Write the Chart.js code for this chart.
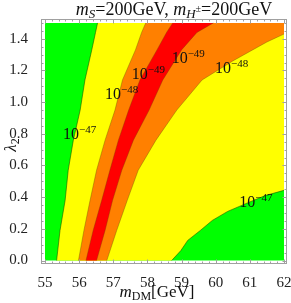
<!DOCTYPE html>
<html>
<head>
<meta charset="utf-8">
<script src="https://cdn.jsdelivr.net/npm/chart.js@4.4.1/dist/chart.umd.min.js"></script>
<style>
html, body { margin: 0; padding: 0; background: #fff; }
canvas { display: block; }
</style>
</head>
<body>
<canvas id="contour" width="291" height="303"></canvas>
<script>
// lambda_2 values at which the band boundaries were read
var lamBand = [0, 0.19, 0.38, 0.57, 0.76, 0.95, 1.14, 1.33, 1.44, 1.5];
// left-hand boundaries, m_DM in GeV
var mGreenYellow  = [55.34, 55.44, 55.59, 55.68, 55.83, 56.03, 56.17, 56.37, 56.48, 56.54];
var mYellowOrange = [55.98, 56.14, 56.32, 56.51, 56.76, 57.05, 57.27, 57.65, 57.83, 57.95];
var mOrangeRed    = [56.20, 56.41, 56.66, 56.90, 57.15, 57.45, 57.78, 58.28, 58.56, 58.74];
var mRedOrange    = [56.51, 56.76, 56.98, 57.25, 57.59, 58.05, 58.45, 59.00, 59.45, 59.93];

// orange -> yellow (right side, leaves through the right edge)
var lamOrangeYellow = [0, 0.19, 0.38, 0.57, 0.76, 0.95, 1.14, 1.20, 1.26, 1.32, 1.38, 1.43];
var mOrangeYellow   = [56.81, 57.10, 57.41, 57.73, 58.25, 58.86, 59.60, 60.05, 60.50, 61.00, 61.50, 62.00];

// yellow -> green (bottom right)
var lamYellowGreen = [0, 0.063, 0.127, 0.19, 0.253, 0.31, 0.37, 0.41, 0.443];
var mYellowGreen   = [58.71, 58.98, 59.18, 59.55, 59.90, 60.35, 61.00, 61.45, 62.00];

var mRange = [55, 62];
var lamRange = [0, 1.5];
var xTicks = [55, 56, 57, 58, 59, 60, 61, 62];
var yTicks = [0, 0.2, 0.4, 0.6, 0.8, 1.0, 1.2, 1.4];

// contour labels: exponent, left of "10" and its baseline (data coords)
var labExp = ['47', '48', '49', '49', '48', '47'];
var labM   = [55.53, 56.76, 57.54, 58.71, 59.98, 60.69];
var labLam = [0.767, 1.02, 1.144, 1.249, 1.182, 0.34];

function pts(ms, lams) {
    return ms.map(function (m, i) { return { x: m, y: lams[i] }; });
}

var greenBox = [
    { x: mRange[0], y: lamRange[0] }, { x: mRange[1], y: lamRange[0] },
    { x: mRange[1], y: lamRange[1] }, { x: mRange[0], y: lamRange[1] }
];
var yellowPoly = pts(mGreenYellow, lamBand)
    .concat([{ x: mRange[1], y: lamRange[1] }])
    .concat(pts(mYellowGreen, lamYellowGreen).reverse());
var orangePoly = pts(mYellowOrange, lamBand)
    .concat([{ x: mRange[1], y: lamRange[1] }])
    .concat(pts(mOrangeYellow, lamOrangeYellow).reverse());
var redPoly = pts(mOrangeRed, lamBand)
    .concat(pts(mRedOrange, lamBand).reverse());

function area(data, color, order) {
    return { data: data, fill: 'shape', backgroundColor: color, borderWidth: 0,
             pointRadius: 0, order: order };
}
function edge(data, color) {
    return { data: data, fill: false, borderColor: color, borderWidth: 0.8,
             pointRadius: 0, order: 1 };
}

var SERIF = '"Liberation Serif", "DejaVu Serif", serif';

function drawRich(ctx, parts, x, y, align) {
    var total = 0;
    parts.forEach(function (p) {
        ctx.font = (p.it ? 'italic ' : '') + p.size + 'px ' + SERIF;
        p.w = ctx.measureText(p.t).width;
        total += p.w;
    });
    var cx = align === 'center' ? x - total / 2 : x;
    ctx.textAlign = 'left';
    ctx.textBaseline = 'alphabetic';
    parts.forEach(function (p) {
        ctx.font = (p.it ? 'italic ' : '') + p.size + 'px ' + SERIF;
        ctx.fillText(p.t, cx, y + (p.dy || 0));
        cx += p.w;
    });
}

var decor = {
    id: 'decor',
    afterDatasetsDraw: function (chart) {
        var ctx = chart.ctx, xs = chart.scales.x, ys = chart.scales.y;
        ctx.save();
        ctx.fillStyle = '#111';
        for (var i = 0; i < labExp.length; i++) {
            var px = xs.getPixelForValue(labM[i]);
            var py = ys.getPixelForValue(labLam[i]);
            drawRich(ctx, [
                { t: '10', size: 16 },
                { t: '\u2212' + labExp[i], size: 11, dy: -6 }
            ], px, py, 'left');
        }
        ctx.restore();
    },
    afterDraw: function (chart) {
        var ctx = chart.ctx, a = chart.chartArea, xs = chart.scales.x, ys = chart.scales.y;
        ctx.save();
        ctx.strokeStyle = '#a0a0a0';
        ctx.lineWidth = 1;
        ctx.strokeRect(a.left + 0.5, a.top + 0.5, a.right - a.left - 1, a.bottom - a.top - 1);
        ctx.beginPath();
        var k, v, p, len;
        for (k = 0; k <= 35; k++) {
            v = mRange[0] + k * 0.2;
            p = Math.round(xs.getPixelForValue(v)) + 0.5;
            len = k % 5 === 0 ? 4.5 : 2.5;
            ctx.moveTo(p, a.bottom); ctx.lineTo(p, a.bottom - len);
            ctx.moveTo(p, a.top); ctx.lineTo(p, a.top + len);
        }
        for (k = 0; k <= 30; k++) {
            v = k * 0.05;
            p = Math.round(ys.getPixelForValue(v)) + 0.5;
            len = k % 4 === 0 ? 4.5 : 2.5;
            ctx.moveTo(a.left, p); ctx.lineTo(a.left + len, p);
            ctx.moveTo(a.right, p); ctx.lineTo(a.right - len, p);
        }
        ctx.stroke();

        ctx.fillStyle = '#111';
        // title
        drawRich(ctx, [
            { t: 'm', it: true, size: 18 },
            { t: 'S', it: true, size: 13, dy: 3 },
            { t: '=200GeV, ', size: 18 },
            { t: 'm', it: true, size: 18 },
            { t: 'H', it: true, size: 13, dy: 3 },
            { t: '\u00b1', size: 10, dy: -3 },
            { t: '=200GeV', size: 18 }
        ], 174, 15, 'center');
        // x title
        drawRich(ctx, [
            { t: 'm', it: true, size: 17 },
            { t: 'DM', size: 12, dy: 3 },
            { t: '[GeV]', size: 17 }
        ], 157, 297, 'center');
        // y title
        ctx.translate(16, 145);
        ctx.rotate(-Math.PI / 2);
        drawRich(ctx, [
            { t: '\u03bb', it: true, size: 17 },
            { t: '2', size: 12, dy: 3 }
        ], 0, 0, 'center');
        ctx.restore();
    }
};

new Chart(document.getElementById('contour'), {
    type: 'line',
    data: {
        datasets: [
            area(greenBox, '#00ff00', 10),
            area(yellowPoly, '#ffff00', 9),
            area(orangePoly, '#ff8000', 8),
            area(redPoly, '#ff0000', 7),
            edge(pts(mGreenYellow, lamBand), 'rgba(20,80,0,0.7)'),
            edge(pts(mYellowGreen, lamYellowGreen), 'rgba(20,80,0,0.7)'),
            edge(pts(mYellowOrange, lamBand), 'rgba(110,90,0,0.5)'),
            edge(pts(mOrangeYellow, lamOrangeYellow), 'rgba(110,90,0,0.5)'),
            edge(pts(mOrangeRed, lamBand), 'rgba(120,60,0,0.45)'),
            edge(pts(mRedOrange, lamBand), 'rgba(120,60,0,0.45)')
        ]
    },
    options: {
        responsive: false,
        animation: false,
        devicePixelRatio: 1,
        layout: { padding: { left: 0, top: 19, right: 4, bottom: 0 } },
        plugins: { legend: { display: false }, tooltip: { enabled: false } },
        scales: {
            x: {
                type: 'linear',
                min: 54.883, max: 62.088,
                grid: { display: false },
                border: { display: false },
                ticks: {
                    padding: 2, color: '#222', maxRotation: 0,
                    font: { family: SERIF, size: 15 },
                    callback: function (v) { return String(v); }
                },
                afterBuildTicks: function (s) { s.ticks = xTicks.map(function (v) { return { value: v }; }); },
                afterFit: function (s) { s.height = 39; s.paddingLeft = 0; s.paddingRight = 0; }
            },
            y: {
                type: 'linear',
                min: -0.022, max: 1.525,
                grid: { display: false },
                border: { display: false },
                ticks: {
                    padding: 5, color: '#222',
                    font: { family: SERIF, size: 15 },
                    callback: function (v) { return v.toFixed(1); }
                },
                afterBuildTicks: function (s) { s.ticks = yTicks.map(function (v) { return { value: v }; }); },
                afterFit: function (s) { s.width = 41; s.paddingTop = 0; s.paddingBottom = 0; }
            }
        }
    },
    plugins: [decor]
});
</script>
</body>
</html>
